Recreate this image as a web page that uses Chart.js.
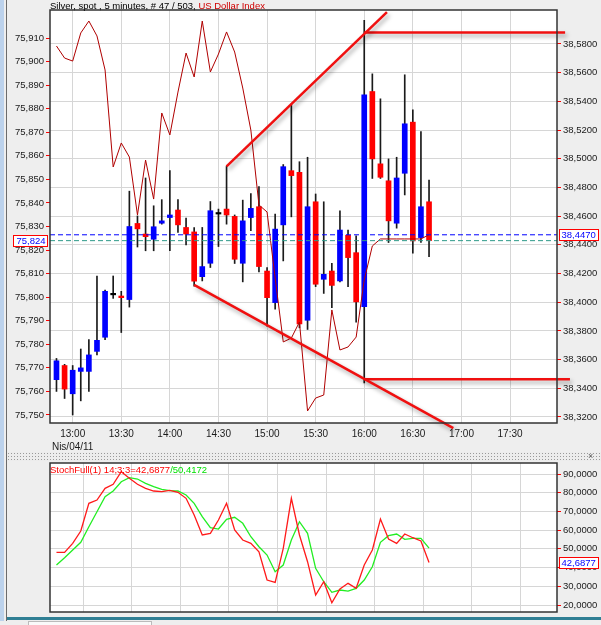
<!DOCTYPE html>
<html>
<head>
<meta charset="utf-8">
<script src="https://cdn.jsdelivr.net/npm/chart.js@4.4.0/dist/chart.umd.min.js"></script>
<style>
  body { margin: 0; width: 601px; height: 625px; background: #eeeeee; position: relative; overflow: hidden;
         font-family: 'Liberation Sans', Arial, sans-serif; }
  canvas { position: absolute; left: 0; }
  #main { top: 0; }
  #stoch { top: 455px; }
  .title { position: absolute; white-space: nowrap; font-size: 9.5px; line-height: 11px; z-index: 2; }
  #edge { position: absolute; left: 0; top: 0; width: 4px; height: 621px; background: #bcd2ec; }
  #edgeLine { position: absolute; left: 6px; top: 0; width: 1px; height: 621px; background: #6b6b6b; }
  #splitter { position: absolute; left: 7px; top: 452px; width: 594px; height: 9px; background-color: #ececec;
              background-image: radial-gradient(circle, #999 0.7px, transparent 0.9px); background-size: 3px 3px; }
  #closeX { position: absolute; left: 588px; top: 451px; font-size: 9px; color: #555; }
  #bottomBar { position: absolute; left: 7px; top: 617px; width: 594px; height: 3px; background: #2f7f94; }
  #scroll { position: absolute; left: 28px; top: 621px; width: 122px; height: 4px; background: #fafafa; border: 1px solid #bbb; }
</style>
</head>
<body>
<div id="edge"></div>
<div id="edgeLine"></div>
<canvas id="main" width="601" height="452"></canvas>
<div id="splitter"></div>
<div id="closeX">×</div>
<canvas id="stoch" width="601" height="165"></canvas>
<div id="bottomBar"></div>
<div id="scroll"></div>
<div class="title" id="mainTitle" style="left:50px; top:0px;"></div>
<div class="title" id="stochTitle" style="left:50px; top:464px;"></div>
<script>
const times = [
  '12:50', '12:55', '13:00', '13:05', '13:10', '13:15', '13:20', '13:25', '13:30', '13:35',
  '13:40', '13:45', '13:50', '13:55', '14:00', '14:05', '14:10', '14:15', '14:20', '14:25',
  '14:30', '14:35', '14:40', '14:45', '14:50', '14:55', '15:00', '15:05', '15:10', '15:15',
  '15:20', '15:25', '15:30', '15:35', '15:40', '15:45', '15:50', '15:55', '16:00', '16:05',
  '16:10', '16:15', '16:20', '16:25', '16:30', '16:35', '16:40'
];

// Silver, spot, 5 minutes
const opens = [
  75.765, 75.771, 75.759, 75.7685, 75.7685, 75.777, 75.783, 75.801, 75.8005, 75.799,
  75.8313, 75.8268, 75.8246, 75.8314, 75.8338, 75.837, 75.8296, 75.8277, 75.8087, 75.8144,
  75.8353, 75.8374, 75.8343, 75.8144, 75.8338, 75.8384, 75.8111, 75.7977, 75.8307, 75.8537,
  75.853, 75.7902, 75.8405, 75.8076, 75.8111, 75.8069, 75.8263, 75.8189, 75.796, 75.8873,
  75.8566, 75.8494, 75.8314, 75.8526, 75.8743, 75.8253, 75.8405
];
const highs = [
  75.774, 75.7715, 75.771, 75.778, 75.782, 75.809, 75.803, 75.809, 75.8025, 75.845,
  75.8345, 75.8506, 75.8388, 75.8414, 75.8537, 75.8414, 75.8336, 75.8296, 75.8296, 75.8406,
  75.8374, 75.8555, 75.8349, 75.8412, 75.844, 75.8469, 75.8126, 75.8353, 75.8563, 75.882,
  75.8575, 75.8594, 75.8438, 75.8405, 75.8144, 75.8367, 75.8285, 75.826, 75.9175, 75.8948,
  75.8842, 75.8587, 75.8594, 75.8944, 75.8795, 75.8703, 75.8497
];
const lows = [
  75.760, 75.757, 75.750, 75.756, 75.760, 75.7755, 75.782, 75.7995, 75.785, 75.7958,
  75.8213, 75.8197, 75.8197, 75.831, 75.8197, 75.8275, 75.8222, 75.8047, 75.8069, 75.8126,
  75.8215, 75.831, 75.8143, 75.8065, 75.8282, 75.8107, 75.7877, 75.7949, 75.8154, 75.8341,
  75.787, 75.7863, 75.8045, 75.8016, 75.7955, 75.8065, 75.8045, 75.7894, 75.7636, 75.8504,
  75.8504, 75.8232, 75.8293, 75.8434, 75.8187, 75.8232, 75.8172
];
const closes = [
  75.773, 75.761, 75.769, 75.770, 75.7755, 75.7817, 75.8025, 75.801, 75.7998, 75.830,
  75.829, 75.8257, 75.8299, 75.8324, 75.8349, 75.8307, 75.8268, 75.8068, 75.813, 75.8367,
  75.8353, 75.8349, 75.8161, 75.8324, 75.8377, 75.813, 75.7998, 75.8289, 75.8554, 75.8516,
  75.7887, 75.8384, 75.8055, 75.8097, 75.805, 75.8285, 75.8168, 75.798, 75.8859, 75.8587,
  75.8509, 75.8324, 75.8506, 75.8736, 75.8239, 75.8384, 75.824
];

// US Dollar Index (right axis)
const usdIndex = [
  38.5786, 38.5702, 38.5681, 38.5877, 38.5960, 38.5856, 38.5619, 38.4943, 38.5110, 38.5012,
  38.4608, 38.4991, 38.4719, 38.5319, 38.5166, 38.5465, 38.5737, 38.5570, 38.5960, 38.5605,
  38.5730, 38.5884, 38.5744, 38.5493, 38.5200, 38.4678, 38.4629, 38.4169, 38.3723, 38.3750,
  38.3862, 38.3242, 38.3332, 38.3353, 38.3946, 38.3667, 38.3688, 38.3757, 38.4155, 38.4392,
  38.4441, 38.4441, 38.4441, 38.4441, 38.4441, 38.4441, 38.447
];

// StochFull(1) 14;3;3
const stochK = [
  48.15, 48.15, 52.96, 59.53, 74.34, 76.1, 82.36, 84.5, 91.23, 87.7,
  84.5, 82.36, 80.91, 80.54, 81.29, 80.22, 77.01, 68.09, 57.4, 58.31,
  65.41, 74.34, 60.07, 54.72, 52.96, 48.47, 33.35, 32.12, 50.29, 77.01,
  57.4, 43.13, 25.33, 32.44, 21.21, 28.54, 31.58, 28.91, 41.36, 49.38,
  65.95, 55.26, 52.96, 57.93, 55.95, 54.19, 42.6877
];
const stochD = [
  41.36, 45.27, 49.38, 53.5, 61.83, 69.85, 77.87, 80.91, 85.88, 88.02,
  87.33, 85.03, 83.21, 81.82, 81.07, 80.91, 78.78, 74.34, 67.18, 61.3,
  60.6, 65.79, 66.86, 63.65, 56.49, 51.14, 46.71, 37.78, 41.36, 54.72,
  64.51, 58.31, 39.6, 32.44, 26.77, 28, 27.47, 28.91, 33.35, 40.45,
  53.5, 57.02, 57.93, 55.1, 55.63, 55.63, 50.4172
];

// drawn trend lines: [time, silver price]
const trendUp = [['14:35', 75.8555], ['16:14', 75.921]];
const resistance = [['16:00', 75.9124], ['18:04', 75.9124]];
const trendDown = [['14:15', 75.8052], ['16:55', 75.7444]];
const support = [['16:00', 75.7652], ['18:07', 75.7652]];

const timeTicks = ['13:00', '13:30', '14:00', '14:30', '15:00', '15:30', '16:00', '16:30', '17:00', '17:30'];
const dateLabel = 'Nis/04/11';
const stochGridTimes = ['13:06', '13:36', '14:06', '14:36', '15:06', '15:36', '16:06', '16:36', '17:06', '17:36'];
const silverTicks = [75.75, 75.76, 75.77, 75.78, 75.79, 75.80, 75.81, 75.82, 75.83, 75.84, 75.85, 75.86, 75.87, 75.88, 75.89, 75.90, 75.91];
const usdTicks = [38.32, 38.34, 38.36, 38.38, 38.40, 38.42, 38.44, 38.46, 38.48, 38.50, 38.52, 38.54, 38.56, 38.58];
const stochTicks = [20, 30, 40, 50, 60, 70, 80, 90];

const toMin = (t) => {
  const [h, m] = t.split(':').map(Number);
  return h * 60 + m;
};
const fmtTime = (m) => `${Math.floor(m / 60)}:${String(Math.round(m % 60)).padStart(2, '0')}`;
const comma = (v, d) => v.toFixed(d).replace('.', ',');
const last = (arr) => arr[arr.length - 1];

const xMin = toMin('12:46');
const xMax = toMin('17:59');
const gridColor = '#d6d6d6';
const fontFamily = "'Liberation Sans', Arial, sans-serif";
const font = { family: fontFamily, size: 9.5 };
const labelColor = '#1a1a1a';

document.getElementById('mainTitle').innerHTML =
  'Silver, spot , 5 minutes, # 47 / 503, <span style="color:#d00000">US Dollar Index</span>';
document.getElementById('stochTitle').innerHTML =
  `<span style="color:#ff0000">StochFull(1) 14;3;3=${comma(last(stochK), 4)}</span>` +
  `<span style="color:#00e000">/${comma(last(stochD), 4)}</span>`;

// white plot area, dark frame, last-value boxes
const frame = {
  id: 'frame',
  beforeDraw(chart) {
    const { ctx, chartArea: a } = chart;
    ctx.save();
    ctx.fillStyle = '#ffffff';
    ctx.fillRect(a.left, a.top, a.right - a.left, a.bottom - a.top);
    ctx.restore();
  },
  afterDraw(chart, args, opts) {
    const { ctx, chartArea: a } = chart;
    ctx.save();
    ctx.strokeStyle = '#333333';
    ctx.lineWidth = 1.5;
    ctx.strokeRect(a.left, a.top, a.right - a.left, a.bottom - a.top);
    (opts.boxes || []).forEach((b) => {
      const y = Math.round(chart.scales[b.axis].getPixelForValue(b.value)) + 0.5;
      const w = b.side === 'left' ? 34 : 39;
      const x = b.side === 'left' ? a.left - 37 + 0.5 : a.right + 2 + 0.5;
      ctx.fillStyle = '#ffffff';
      ctx.fillRect(x, y - 6, w, 11);
      ctx.strokeStyle = '#ff0000';
      ctx.lineWidth = 1;
      ctx.strokeRect(x, y - 6, w, 11);
      ctx.fillStyle = '#0000ff';
      ctx.font = `9.5px ${fontFamily}`;
      ctx.textBaseline = 'middle';
      ctx.textAlign = b.side === 'left' ? 'right' : 'left';
      ctx.fillText(b.text, b.side === 'left' ? x + w - 2 : x + 2, y);
    });
    ctx.restore();
  }
};

// soft shadow under the drawn trend lines
const shadow = {
  id: 'shadow',
  beforeDatasetDraw(chart, args) {
    if (!chart.data.datasets[args.index].shadow) return;
    const ctx = chart.ctx;
    ctx.save();
    ctx.shadowColor = 'rgba(0, 0, 0, 0.35)';
    ctx.shadowBlur = 4;
    ctx.shadowOffsetX = 2;
    ctx.shadowOffsetY = 3;
  },
  afterDatasetDraw(chart, args) {
    if (chart.data.datasets[args.index].shadow) chart.ctx.restore();
  }
};

const bodyColors = opens.map((o, i) => (closes[i] > o ? '#0000ff' : closes[i] < o ? '#ff0000' : '#000000'));

function trendLine(points) {
  return {
    type: 'line',
    data: points.map(([t, v]) => ({ x: toMin(t), y: v })),
    yAxisID: 'y',
    borderColor: '#f01010',
    borderWidth: 2.5,
    pointRadius: 0,
    clip: false,
    shadow: true,
    order: 0,
  };
}

function levelLine(value, axis, color) {
  return {
    type: 'line',
    data: [{ x: xMin, y: value }, { x: xMax, y: value }],
    yAxisID: axis,
    borderColor: color,
    borderWidth: 1,
    borderDash: [5, 3],
    pointRadius: 0,
    order: 1,
  };
}

new Chart(document.getElementById('main'), {
  type: 'bar',
  data: {
    datasets: [
      trendLine(trendUp),
      trendLine(resistance),
      trendLine(trendDown),
      trendLine(support),
      levelLine(last(usdIndex), 'y1', '#0000ff'),
      levelLine(last(closes), 'y', '#2e9a8a'),
      {
        type: 'line',
        label: 'US Dollar Index',
        data: times.map((t, i) => ({ x: toMin(t), y: usdIndex[i] })),
        yAxisID: 'y1',
        borderColor: '#b00000',
        borderWidth: 1,
        pointRadius: 0,
        order: 2,
      },
      {
        label: 'body',
        data: times.map((t, i) => ({ x: toMin(t), y: [opens[i], closes[i]] })),
        yAxisID: 'y',
        backgroundColor: bodyColors,
        barThickness: 5,
        minBarLength: 1.5,
        grouped: false,
        borderWidth: 0,
        order: 3,
      },
      {
        label: 'wick',
        data: times.map((t, i) => ({ x: toMin(t), y: [lows[i], highs[i]] })),
        yAxisID: 'y',
        backgroundColor: '#1a1a1a',
        barThickness: 1,
        grouped: false,
        borderWidth: 0,
        order: 4,
      },
    ],
  },
  options: {
    responsive: false,
    animation: false,
    devicePixelRatio: 1,
    events: [],
    layout: { padding: { top: 10, left: 0, right: 0, bottom: 0 } },
    plugins: {
      legend: { display: false },
      tooltip: { enabled: false },
      frame: {
        boxes: [
          { axis: 'y', value: last(closes), text: comma(last(closes), 3), side: 'left' },
          { axis: 'y1', value: last(usdIndex), text: comma(last(usdIndex), 4), side: 'right' },
        ],
      },
    },
    scales: {
      x: {
        type: 'linear',
        min: xMin,
        max: xMax,
        offset: false,
        afterBuildTicks: (s) => { s.ticks = timeTicks.map((t) => ({ value: toMin(t) })); },
        afterFit: (s) => { s.height = 29; },
        grid: { color: gridColor, drawTicks: false, offset: false },
        border: { display: false },
        ticks: {
          font: { family: fontFamily, size: 10, lineHeight: 1.3 },
          color: labelColor,
          padding: 5,
          maxRotation: 0,
          autoSkip: false,
          callback: (v) => (v === toMin(timeTicks[0]) ? [fmtTime(v), dateLabel] : fmtTime(v)),
        },
      },
      y: {
        position: 'left',
        min: 75.7466,
        max: 75.9219,
        afterBuildTicks: (s) => { s.ticks = silverTicks.map((v) => ({ value: v })); },
        afterFit: (s) => { s.width = 50; },
        grid: { drawOnChartArea: false, tickColor: '#ff0000', tickLength: 4 },
        border: { display: false },
        ticks: { font, color: labelColor, padding: 2, callback: (v) => comma(v, 3) },
      },
      y1: {
        position: 'right',
        min: 38.3158,
        max: 38.6037,
        afterBuildTicks: (s) => { s.ticks = usdTicks.map((v) => ({ value: v })); },
        afterFit: (s) => { s.width = 44; },
        grid: { color: gridColor, tickColor: '#ff0000', tickLength: 4 },
        border: { display: false },
        ticks: { font, color: labelColor, padding: 2, callback: (v) => comma(v, 4) },
      },
    },
  },
  plugins: [frame, shadow],
});

new Chart(document.getElementById('stoch'), {
  type: 'line',
  data: {
    datasets: [
      {
        label: '%K',
        data: times.map((t, i) => ({ x: toMin(t), y: stochK[i] })),
        borderColor: '#ff1a1a',
        borderWidth: 1.3,
        pointRadius: 0,
      },
      {
        label: '%D',
        data: times.map((t, i) => ({ x: toMin(t), y: stochD[i] })),
        borderColor: '#22ee22',
        borderWidth: 1.3,
        pointRadius: 0,
      },
    ],
  },
  options: {
    responsive: false,
    animation: false,
    devicePixelRatio: 1,
    events: [],
    layout: { padding: { top: 8, left: 50, right: 0, bottom: 0 } },
    plugins: {
      legend: { display: false },
      tooltip: { enabled: false },
      frame: {
        boxes: [{ axis: 'y', value: last(stochK), text: comma(last(stochK), 4), side: 'right' }],
      },
    },
    scales: {
      x: {
        type: 'linear',
        min: xMin,
        max: xMax,
        afterBuildTicks: (s) => { s.ticks = stochGridTimes.map((t) => ({ value: toMin(t) + 0.5 })); },
        afterFit: (s) => { s.height = 8; },
        grid: { color: gridColor, drawTicks: false },
        border: { display: false },
        ticks: { display: false },
      },
      y: {
        position: 'right',
        min: 16.26,
        max: 95.88,
        afterBuildTicks: (s) => { s.ticks = stochTicks.map((v) => ({ value: v })); },
        afterFit: (s) => { s.width = 44; },
        grid: { color: gridColor, tickColor: '#ff0000', tickLength: 4 },
        border: { display: false },
        ticks: { font, color: labelColor, padding: 2, callback: (v) => comma(v, 4) },
      },
    },
  },
  plugins: [frame],
});
</script>
</body>
</html>
